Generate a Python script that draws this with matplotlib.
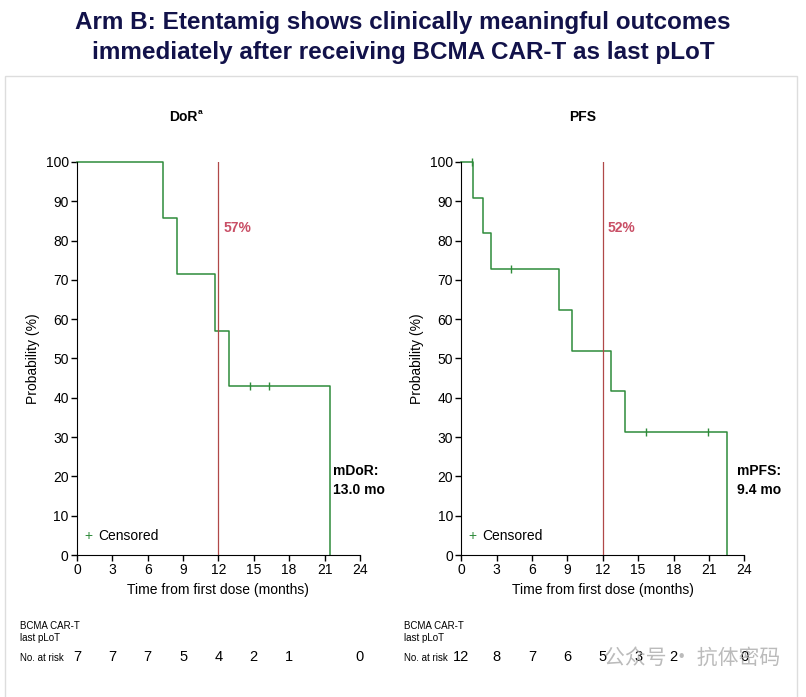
import numpy as np
import matplotlib.pyplot as plt
from matplotlib.patches import Rectangle
from matplotlib.transforms import blended_transform_factory

plt.rcParams['font.family'] = ['Liberation Sans', 'DejaVu Sans']

# DoR (Kaplan-Meier steps)
dor_t = [0, 7.3, 8.5, 11.7, 12.9, 21.5]
dor_s = [100, 85.7, 71.4, 57.1, 42.9, 0]
dor_cens_t = [14.7, 16.3]
dor_cens_s = [42.9, 42.9]
dor_risk = ['7', '7', '7', '5', '4', '2', '1', '', '0']

# PFS
pfs_t = [0, 0.95, 1.8, 2.55, 8.25, 9.4, 12.7, 13.9, 22.55]
pfs_s = [100, 90.9, 81.8, 72.7, 62.3, 51.9, 41.6, 31.2, 0]
pfs_cens_t = [0.88, 4.25, 15.65, 20.95]
pfs_cens_s = [100, 72.7, 31.2, 31.2]
pfs_risk = ['12', '8', '7', '6', '5', '3', '2', '', '0']

risk_times = [0, 3, 6, 9, 12, 15, 18, 21, 24]

green = '#2e8b3a'
red_line = '#b04848'
red_txt = '#c94f66'

fig = plt.figure(figsize=(8.06, 6.97), dpi=100)
fig.patches.append(Rectangle((0.0062, -0.01), 0.9826, 0.901, transform=fig.transFigure,
                             fill=False, edgecolor='#dddddd', lw=1))

fig.text(0.5, 1 - 22 / 697, 'Arm B: Etentamig shows clinically meaningful outcomes',
         ha='center', va='center', fontsize=17.5, fontweight='bold', color='#12124a')
fig.text(0.5, 1 - 52 / 697, 'immediately after receiving BCMA CAR-T as last pLoT',
         ha='center', va='center', fontsize=17.5, fontweight='bold', color='#12124a')

panels = [
    (0.0955, dor_t, dor_s, dor_cens_t, dor_cens_s, dor_risk, 'DoR', '57%', 'mDoR:\n13.0 mo', 21.7),
    (0.5724, pfs_t, pfs_s, pfs_cens_t, pfs_cens_s, pfs_risk, 'PFS', '52%', 'mPFS:\n9.4 mo', 23.4),
]

for left, t, s, ct, cs, risk, name, pct, med, medx in panels:
    ax = fig.add_axes([left, 0.2037, 0.351, 0.564])
    ax.step(t, s, where='post', color=green, lw=1.1, clip_on=False)
    ax.plot(ct, cs, ls='none', marker='|', ms=6, mew=1, color=green, clip_on=False)
    ax.axvline(12, color=red_line, lw=0.9)
    ax.set_xlim(0, 24)
    ax.set_ylim(0, 100)
    ax.set_xticks(np.arange(0, 25, 3))
    ax.set_yticks(np.arange(0, 101, 10))
    ax.tick_params(labelsize=10, length=4, width=1, direction='out', pad=2)
    for sp in ['top', 'right']:
        ax.spines[sp].set_visible(False)
    ax.set_xlabel('Time from first dose (months)', fontsize=10, labelpad=4)
    ax.set_ylabel('Probability (%)', fontsize=10, labelpad=4)

    ax.text(12.4, 83.2, pct, color=red_txt, fontsize=10, fontweight='bold', va='center')
    ax.text(medx, 19, med, fontsize=10, fontweight='bold', va='center', linespacing=1.4)

    # legend
    ax.text(0.04, 0.048, '+', transform=ax.transAxes, color=green, fontsize=10,
            va='center', ha='center')
    ax.text(0.075, 0.048, 'Censored', transform=ax.transAxes, fontsize=10, va='center')

    # panel title
    if name == 'DoR':
        ax.text(10.2, 111.3, 'DoR', fontsize=10, fontweight='bold', ha='right', va='center',
                clip_on=False)
        ax.text(10.25, 112.6, 'a', fontsize=6, fontweight='bold', ha='left', va='center',
                clip_on=False)
    else:
        ax.text(10.3, 111.3, name, fontsize=10, fontweight='bold', ha='center', va='center',
                clip_on=False)

    # risk table
    tr = blended_transform_factory(ax.transData, fig.transFigure)
    x0 = fig.transFigure.inverted().transform(ax.transAxes.transform((0, 0)))[0]
    fig.text(x0 - 0.071, 1 - 626 / 697, 'BCMA CAR-T', fontsize=7, va='center')
    fig.text(x0 - 0.071, 1 - 638 / 697, 'last pLoT', fontsize=7, va='center')
    fig.text(x0 - 0.071, 1 - 658 / 697, 'No. at risk', fontsize=7, va='center')
    for rt, rv in zip(risk_times, risk):
        ax.text(rt, 1 - 657 / 697, rv, transform=tr, fontsize=10.5, ha='center', va='center')

# watermark
fig.text(0.75, 1 - 658 / 697, '公众号 · 抗体密码', fontsize=15, color='#aaaaaa', alpha=0.8,
         va='center', ha='left', family=['Noto Sans CJK SC', 'DejaVu Sans'])

fig.savefig('out.png', dpi=100)
